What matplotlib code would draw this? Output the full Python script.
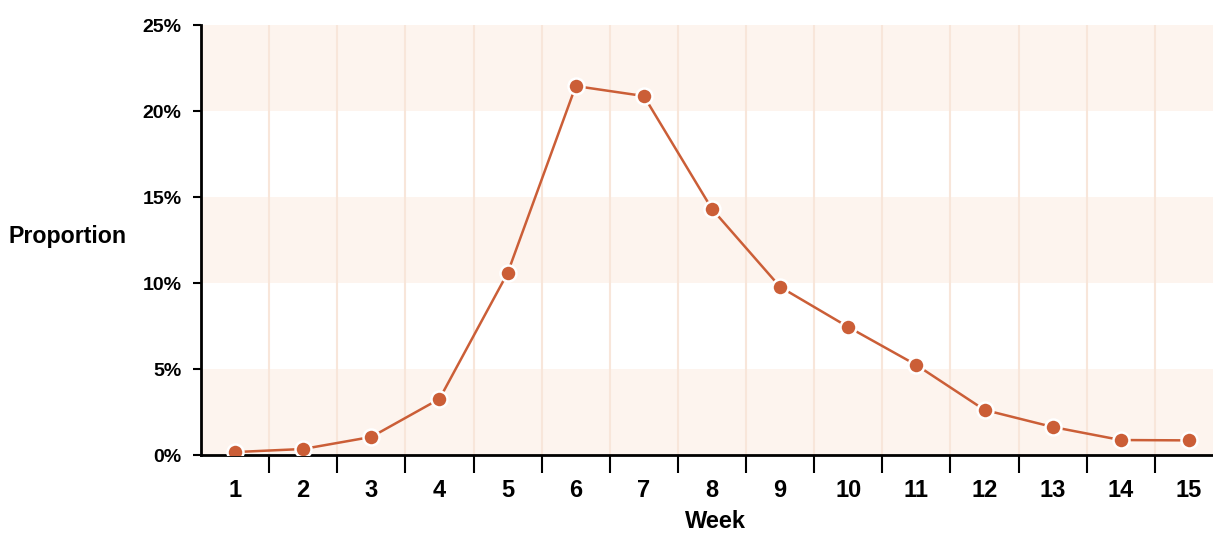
import matplotlib.pyplot as plt
import numpy as np
from matplotlib.ticker import FuncFormatter

weeks = [1, 2, 3, 4, 5, 6, 7, 8, 9, 10, 11, 12, 13, 14, 15]
proportion = [0.17, 0.35, 1.05, 3.26, 10.58, 21.45, 20.87, 14.3, 9.77,
              7.44, 5.23, 2.62, 1.63, 0.87, 0.85]
y_ticks = [0, 5, 10, 15, 20, 25]

line_color = '#cb5e37'
band_color = '#fdf4ee'
grid_color = '#f8e6da'

plt.rcParams['font.family'] = ['Liberation Sans', 'DejaVu Sans']
plt.rcParams['font.weight'] = 'bold'

fig = plt.figure(figsize=(12.13, 5.34), dpi=100)
W, H = 1213, 534
left, right, top, bottom = 201, 1223, 25, 455
ax = fig.add_axes([left / W, 1 - bottom / H, (right - left) / W, (bottom - top) / H])

# alternating bands
for lo in (0, 10, 20):
    ax.axhspan(lo, lo + 5, color=band_color, lw=0, zorder=0)

# vertical lines on band boundaries
n = len(weeks)
for b in np.arange(1.5, n + 0.5, 1.0):
    ax.axvline(b, color=grid_color, lw=1.5, zorder=1)

ax.plot(weeks, proportion, color=line_color, lw=1.8, zorder=3)
ax.plot(weeks, proportion, 'o', color=line_color, ms=11.5,
        mec='white', mew=1.8, zorder=4)

ax.set_xlim(0.5, n + 0.5)
ax.set_ylim(0, 25)

ax.set_yticks(y_ticks)
ax.yaxis.set_major_formatter(FuncFormatter(lambda v, p: f'{int(v)}%'))
ax.tick_params(axis='y', length=6, width=1.5, labelsize=14, pad=8)

# ticks at band boundaries, labels at centers
ax.set_xticks(np.arange(1.5, n + 0.5, 1.0))
ax.set_xticklabels([])
ax.set_xticks(weeks, minor=True)
ax.set_xticklabels([str(w) for w in weeks], minor=True)
ax.tick_params(axis='x', which='major', length=13, width=1.5)
ax.tick_params(axis='x', which='minor', length=0, labelsize=17, pad=17)

for s in ('top', 'right'):
    ax.spines[s].set_visible(False)
for s in ('left', 'bottom'):
    ax.spines[s].set_linewidth(2)

fig.text(68 / W, 1 - 237 / H, 'Proportion', ha='center', va='center',
         fontsize=16.7, fontweight='bold')
fig.text(715 / W, 1 - 522 / H, 'Week', ha='center', va='center',
         fontsize=17, fontweight='bold')

fig.savefig('out.png', dpi=100)
